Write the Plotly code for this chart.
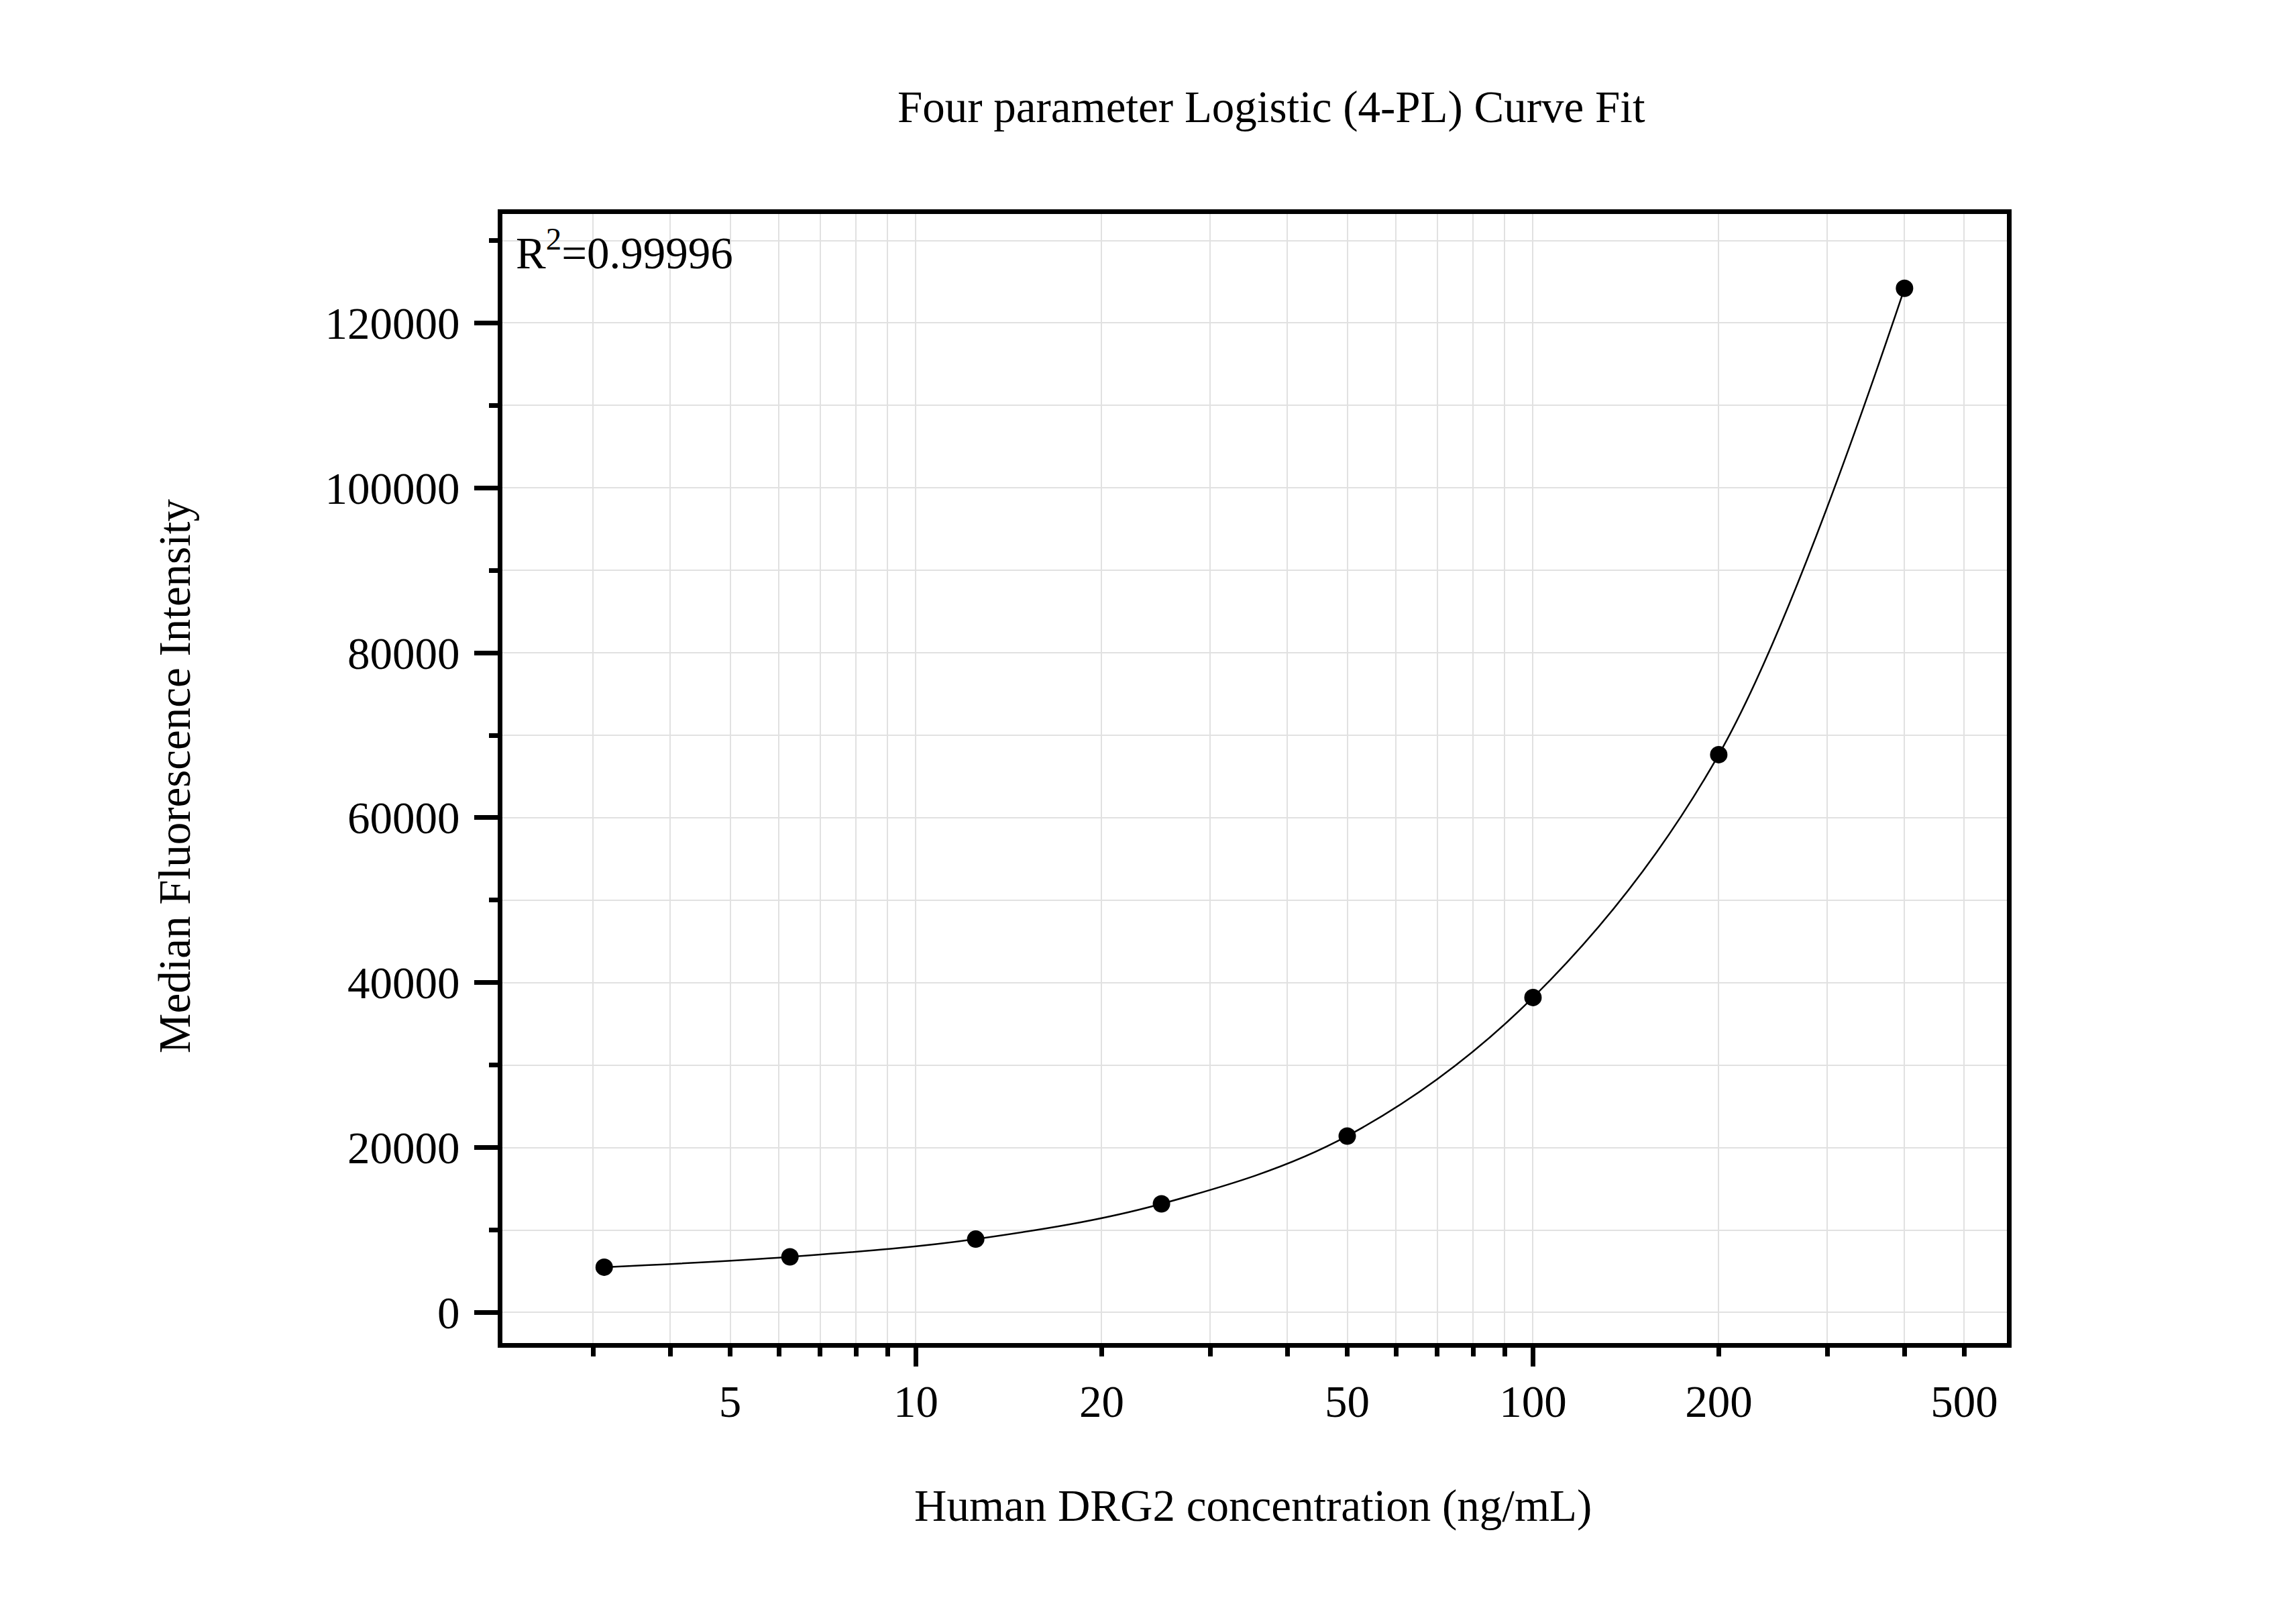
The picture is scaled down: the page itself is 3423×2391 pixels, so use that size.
import plotly.graph_objects as go

conc = [3.125, 6.25, 12.5, 25, 50, 100, 200, 400]
mfi = [5500, 6750, 8900, 13180, 21400, 38200, 67650, 124200]

# axis ticks
x_label_vals = [5, 10, 20, 50, 100, 200, 500]
x_label_text = ["5", "10", "20", "50", "100", "200", "500"]
x_long_vals = [10, 100]
x_minor_vals = [3, 4, 5, 6, 7, 8, 9, 20, 30, 40, 50, 60, 70, 80, 90, 200, 300, 400, 500]
y_major_vals = [0, 20000, 40000, 60000, 80000, 100000, 120000]
y_major_text = ["0", "20000", "40000", "60000", "80000", "100000", "120000"]

FONT = "Liberation Serif, Times New Roman, serif"
GRID = "#e1e1e1"

fig = go.Figure()

# fitted curve, drawn as a smooth line through the standards
fig.add_trace(go.Scatter(
    x=conc, y=mfi, mode="lines", xaxis="x2",
    line=dict(color="black", width=2.5, shape="spline", smoothing=1.0),
    hoverinfo="skip", showlegend=False,
))

# standards
fig.add_trace(go.Scatter(
    x=conc, y=mfi, mode="markers",
    marker=dict(color="black", size=26),
    showlegend=False,
))

fig.update_layout(
    width=3423, height=2391,
    margin=dict(l=741, r=439, t=311, b=397),
    paper_bgcolor="white", plot_bgcolor="white",
    font=dict(family=FONT, size=67, color="black"),
    xaxis=dict(
        type="log", range=[0.3299, 2.768],
        tickmode="array", tickvals=x_label_vals, ticktext=x_label_text,
        ticks="outside", ticklen=13, tickwidth=7, tickcolor="black",
        ticklabelstandoff=10,
        showline=True, linewidth=7, linecolor="black", mirror=True,
        showgrid=True, gridcolor=GRID, gridwidth=2,
        minor=dict(tickmode="array", tickvals=x_minor_vals, ticks="outside",
                   ticklen=13, tickwidth=7, tickcolor="black",
                   showgrid=True, gridcolor=GRID, gridwidth=2),
        zeroline=False,
    ),
    xaxis2=dict(
        type="log", overlaying="x", matches="x", anchor="y", side="bottom",
        tickmode="array", tickvals=x_long_vals,
        ticks="outside", ticklen=34, tickwidth=7, tickcolor="black",
        showticklabels=False, showgrid=False, showline=False, zeroline=False,
    ),
    yaxis=dict(
        range=[-3702, 133214],
        tickmode="array", tickvals=y_major_vals, ticktext=y_major_text,
        ticks="outside", ticklen=35, tickwidth=7, tickcolor="black",
        ticklabelstandoff=8,
        showline=True, linewidth=7, linecolor="black", mirror=True,
        showgrid=True, gridcolor=GRID, gridwidth=2,
        minor=dict(dtick=10000, ticks="outside", ticklen=13, tickwidth=7,
                   tickcolor="black", showgrid=True, gridcolor=GRID, gridwidth=2),
        zeroline=False,
    ),
    annotations=[
        dict(text="Four parameter Logistic (4-PL) Curve Fit",
             xref="paper", yref="paper", x=0.511, y=1.095,
             xanchor="center", yanchor="middle", showarrow=False),
        dict(text="Human DRG2 concentration (ng/mL)",
             xref="paper", yref="paper", x=0.499, y=-0.144,
             xanchor="center", yanchor="middle", showarrow=False),
        dict(text="Median Fluorescence Intensity",
             xref="paper", yref="paper", x=-0.218, y=0.502, textangle=-90,
             xanchor="center", yanchor="middle", showarrow=False),
        dict(text="R<sup>2</sup>=0.99996",
             xref="paper", yref="paper", x=0.008, y=0.9685,
             xanchor="left", yanchor="middle", showarrow=False),
    ],
)

fig.write_html("out.html")
